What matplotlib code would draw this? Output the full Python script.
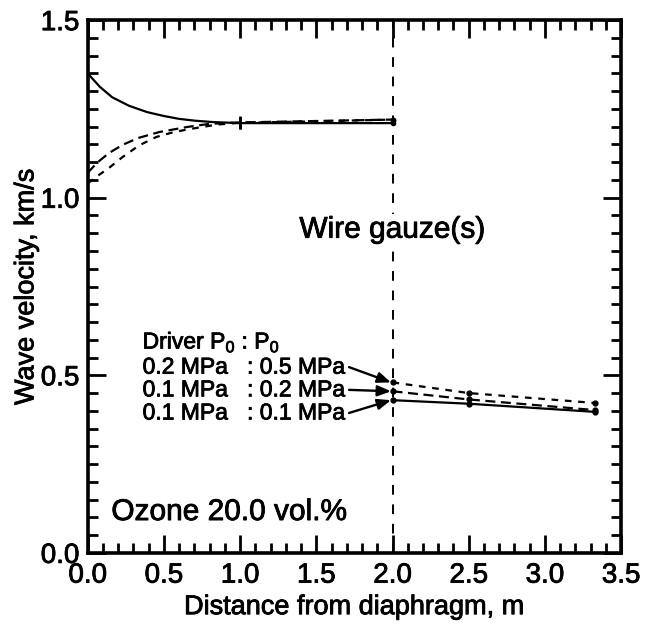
import matplotlib
matplotlib.use("Agg")
import matplotlib.pyplot as plt
import matplotlib.patheffects as pe
from matplotlib.ticker import MultipleLocator

plt.rcParams['font.family'] = ['Liberation Sans', 'DejaVu Sans']
plt.rcParams['mathtext.fontset'] = 'custom'
plt.rcParams['mathtext.rm'] = 'Liberation Sans'

# ---- data ----
# before wire gauze (0-2 m)
x_a_solid = [0.0, 0.08, 0.16, 0.27, 0.39, 0.5, 0.6, 0.7, 0.82, 1.0, 1.5, 2.0]
y_a_solid = [1.35, 1.312, 1.283, 1.259, 1.241, 1.230, 1.222, 1.217, 1.213, 1.210, 1.210, 1.210]

x_a_dash1 = [0.0, 0.06, 0.14, 0.23, 0.33, 0.47, 0.65, 0.8, 1.0, 1.5, 2.0]
y_a_dash1 = [1.07, 1.098, 1.126, 1.149, 1.168, 1.185, 1.199, 1.208, 1.212, 1.216, 1.220]

x_a_dash2 = [0.0, 0.06, 0.14, 0.23, 0.34, 0.45, 0.55, 0.65, 0.85, 1.0, 1.5, 2.0]
y_a_dash2 = [1.04, 1.060, 1.084, 1.115, 1.148, 1.171, 1.183, 1.192, 1.206, 1.211, 1.215, 1.220]

# after wire gauze
x_b = [2.0, 2.5, 3.33]
y_b_solid = [0.430, 0.420, 0.397]   # 0.1 MPa : 0.1 MPa
y_b_dash2 = [0.455, 0.432, 0.402]   # 0.1 MPa : 0.2 MPa
y_b_dash1 = [0.480, 0.450, 0.422]   # 0.2 MPa : 0.5 MPa

legend_rows = ["0.2 MPa   : 0.5 MPa", "0.1 MPa   : 0.2 MPa", "0.1 MPa   : 0.1 MPa"]
gauze_x = 2.0

thick = [pe.withStroke(linewidth=0.6, foreground='black')]

fig = plt.figure(figsize=(6.45, 6.29), dpi=100)
ax = fig.add_axes([0.136, 0.121, 0.827, 0.847])

lw = 1.6
dash1 = (0, (3, 3))
dash2 = (0, (4.5, 2.5))
ax.plot(x_a_solid, y_a_solid, color='black', lw=lw)
ax.plot(x_a_dash1, y_a_dash1, color='black', lw=lw, linestyle=dash2)
ax.plot(x_a_dash2, y_a_dash2, color='black', lw=lw, linestyle=dash1)
for xs, ys in ((x_a_solid, y_a_solid), (x_a_dash1, y_a_dash1), (x_a_dash2, y_a_dash2)):
    i = xs.index(1.0)
    ax.plot([xs[i]], [ys[i]], marker='|', ms=9, mew=1.8, color='black')
    ax.plot([xs[-1]], [ys[-1]], marker='o', ms=3, color='black')

ax.plot(x_b, y_b_solid, color='black', lw=lw, marker='o', ms=3.5)
ax.plot(x_b, y_b_dash2, color='black', lw=lw, linestyle=dash2, marker='o', ms=3.5)
ax.plot(x_b, y_b_dash1, color='black', lw=lw, linestyle=dash1, marker='o', ms=3.5)

ax.axvline(gauze_x, color='black', lw=1.4, linestyle=(0, (5, 5)))

ax.set_xlim(0, 3.5)
ax.set_ylim(0, 1.5)
ax.xaxis.set_major_locator(MultipleLocator(0.5))
ax.xaxis.set_minor_locator(MultipleLocator(0.1))
ax.yaxis.set_major_locator(MultipleLocator(0.5))
ax.yaxis.set_minor_locator(MultipleLocator(0.05))
ax.set_xticklabels([f"{v:.1f}" for v in ax.get_xticks()])
ax.set_yticklabels([f"{v:.1f}" for v in ax.get_yticks()])
ax.tick_params(which='both', direction='in', top=True, right=True, width=2.0, labelsize=20)
ax.tick_params(which='major', length=13)
ax.tick_params(which='minor', length=7)
ax.tick_params(axis='x', which='major', pad=7)
ax.tick_params(axis='y', which='major', pad=6)
for s in ax.spines.values():
    s.set_linewidth(2.6)
for t in ax.get_xticklabels() + ax.get_yticklabels():
    t.set_path_effects(thick)

ax.set_xlabel("Distance from diaphragm, m", fontsize=19.5, labelpad=4, path_effects=thick)
ax.set_ylabel("Wave velocity, km/s", fontsize=19.5, labelpad=1, path_effects=thick)

ax.text(2.0, 0.91, "Wire gauze(s)", fontsize=21.5, ha='center', va='center', path_effects=thick,
        bbox=dict(facecolor='white', edgecolor='none', pad=1))
ax.text(0.155, 0.115, "Ozone 20.0 vol.%", fontsize=21.5, ha='left', va='center', path_effects=thick)

ax.text(0.36, 0.595, r"Driver P$_\mathrm{0}$ : P$_\mathrm{0}$", fontsize=16.5, ha='left', va='center',
        path_effects=thick)
row_y = [0.523, 0.459, 0.394]
targets = [y_b_dash1[0], y_b_dash2[0], y_b_solid[0]]
for label, ty, tgt in zip(legend_rows, row_y, targets):
    ax.text(0.36, ty, label, fontsize=16.5, ha='left', va='center', path_effects=thick)
    ax.annotate("", xy=(1.99, tgt), xytext=(1.715, ty),
                arrowprops=dict(arrowstyle='-|>,head_length=0.8,head_width=0.32',
                                color='black', lw=1.7, shrinkA=0, shrinkB=0))

fig.savefig("out.png", dpi=100)
